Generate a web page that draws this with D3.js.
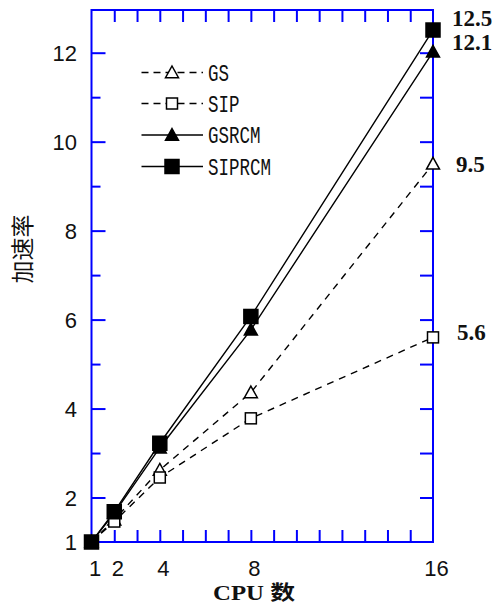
<!DOCTYPE html>
<html><head><meta charset="utf-8">
<script src="https://cdn.jsdelivr.net/npm/d3@7"></script>
<style>body{margin:0;background:#fff}</style>
</head><body>
<script>
const cpus = [1, 2, 4, 8, 16];
const gs = [1, 1.5, 2.62, 4.36, 9.5];
const sip = [1, 1.46, 2.45, 3.78, 5.6];
const gsrcm = [1, 1.65, 3.12, 5.77, 12.02];
const siprcm = [1, 1.68, 3.22, 6.07, 12.51];
const seriesNames = ["GS", "SIP", "GSRCM", "SIPRCM"];
const endLabels = ["12.5", "12.1", "9.5", "5.6"];
const endValues = [12.5, 12.1, 9.5, 5.6];
const xTickLabels = [1, 2, 4, 8, 16];
const yTickLabels = [1, 2, 4, 6, 8, 10, 12];
const xTitle = "CPU 数";
const yTitle = "加速率";

const W = 497, H = 604;
const blue = "#0000ff";
const svg = d3.select("body").append("svg").attr("width", W).attr("height", H);
const x = d3.scaleLinear().domain([1, 16]).range([91.5, 433]);
const y = d3.scaleLinear().domain([1, 12.96]).range([542, 10]);

// axes with inward ticks
const allX = d3.range(1, 17);
const allY = d3.range(2, 13);
function styleAxis(g){ g.select(".domain").remove(); g.selectAll("line").attr("stroke", blue).attr("stroke-width", 2); g.selectAll("text").remove(); }
svg.append("g").attr("transform", `translate(0,${y(12.96)})`)
  .call(d3.axisBottom(x).tickValues(allX.slice(1, -1)).tickSize(12).tickSizeOuter(0)).call(styleAxis);
svg.append("g").attr("transform", `translate(0,${y(1)})`)
  .call(d3.axisTop(x).tickValues(allX.slice(1, -1)).tickSize(12).tickSizeOuter(0)).call(styleAxis);
svg.append("g").attr("transform", `translate(${x(1)},0)`)
  .call(d3.axisRight(y).tickValues(allY.filter(v => v % 2 === 0)).tickSize(14).tickSizeOuter(0)).call(styleAxis);
svg.append("g").attr("transform", `translate(${x(1)},0)`)
  .call(d3.axisRight(y).tickValues(allY.filter(v => v % 2 === 1)).tickSize(9).tickSizeOuter(0)).call(styleAxis);
svg.append("g").attr("transform", `translate(${x(16)},0)`)
  .call(d3.axisLeft(y).tickValues(allY).tickSize(13).tickSizeOuter(0)).call(styleAxis);
svg.append("rect").attr("x", x(1)).attr("y", y(12.96)).attr("width", x(16) - x(1)).attr("height", y(1) - y(12.96))
  .attr("fill", "none").attr("stroke", blue).attr("stroke-width", 2);

// tick labels
svg.append("g").selectAll("text").data(xTickLabels).join("text")
  .attr("x", d => x(d) + 3.5).attr("y", 576).attr("text-anchor", "middle")
  .attr("font-family", "Liberation Sans, Arial, sans-serif").attr("font-size", 22).attr("fill", "#111").text(d => d);
svg.append("g").selectAll("text").data(yTickLabels).join("text")
  .attr("x", 77).attr("y", d => y(d) + 8).attr("text-anchor", "end")
  .attr("font-family", "Liberation Sans, Arial, sans-serif").attr("font-size", 22).attr("fill", "#111").text(d => d);

// titles
svg.append("text").attr("x", 254).attr("y", 600).attr("text-anchor", "middle")
  .attr("font-family", "Liberation Serif, 'Noto Sans CJK SC', serif").attr("font-weight", "bold").attr("font-size", 20)
  .attr("textLength", 82).attr("lengthAdjust", "spacingAndGlyphs").attr("fill", "#111").text(xTitle);
svg.append("text").attr("transform", "translate(31,249) rotate(-90)").attr("text-anchor", "middle")
  .attr("font-family", "'Noto Sans CJK SC', sans-serif").attr("font-size", 23).attr("fill", "#111").text(yTitle);

// series
const data = [gs, sip, gsrcm, siprcm];
const dashed = [true, true, false, false];
const markers = ["triOpen", "sqOpen", "triFill", "sqFill"];
const line = d3.line().x((d, i) => x(cpus[i])).y(d => y(d));
function drawMarker(g, type, cx, cy){
  if (type === "triOpen" || type === "triFill") {
    const s = 6.5;
    g.append("path").attr("d", `M${cx},${cy - s}L${cx + s},${cy + s * 0.8}L${cx - s},${cy + s * 0.8}Z`)
      .attr("fill", type === "triFill" ? "#000" : "#fff").attr("stroke", "#000").attr("stroke-width", 1.5);
  } else {
    const s = type === "sqOpen" ? 5.5 : 7;
    g.append("rect").attr("x", cx - s).attr("y", cy - s).attr("width", 2 * s).attr("height", 2 * s)
      .attr("fill", type === "sqFill" ? "#000" : "#fff").attr("stroke", "#000").attr("stroke-width", 1.5);
  }
}
data.forEach((vals, k) => {
  svg.append("path").datum(vals).attr("d", line).attr("fill", "none").attr("stroke", "#000")
    .attr("stroke-width", 1.4).attr("stroke-dasharray", dashed[k] ? "7,6" : null);
});
data.forEach((vals, k) => {
  const g = svg.append("g");
  vals.forEach((v, i) => drawMarker(g, markers[k], x(cpus[i]), y(v)));
});

// legend
const legY = [72.5, 103.5, 135, 166.5];
seriesNames.forEach((name, k) => {
  const g = svg.append("g");
  g.append("line").attr("x1", 141.5).attr("x2", 203).attr("y1", legY[k]).attr("y2", legY[k])
    .attr("stroke", "#000").attr("stroke-width", 1.5).attr("stroke-dasharray", dashed[k] ? "7,5" : null);
  drawMarker(g, markers[k], 172, legY[k]);
  g.append("text").attr("x", 208).attr("y", legY[k] + 8)
    .attr("font-family", "Liberation Mono, monospace").attr("font-size", 23)
    .attr("textLength", name.length * 10.5).attr("lengthAdjust", "spacingAndGlyphs").attr("fill", "#111").text(name);
});

// end labels
const endY = [26, 50, 171.5, 340];
const endX = [452, 452, 456, 457];
svg.append("g").selectAll("text").data(endLabels).join("text")
  .attr("x", (d, i) => endX[i]).attr("y", (d, i) => endY[i])
  .attr("font-family", "Liberation Serif, serif").attr("font-weight", "bold").attr("font-size", 23)
  .attr("fill", "#111").text(d => d);
</script>
</body></html>
